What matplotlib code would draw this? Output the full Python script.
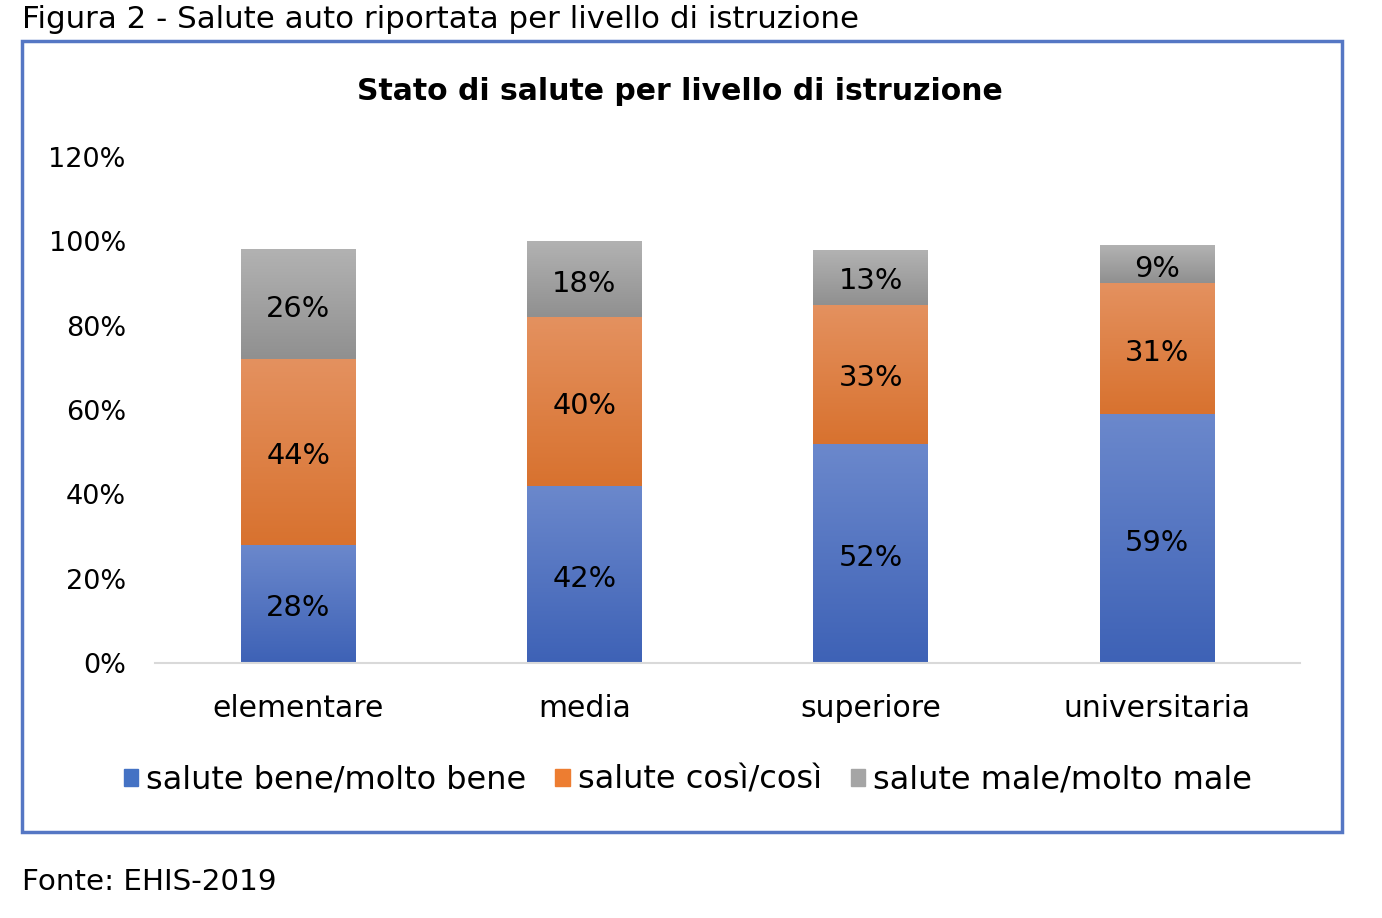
import matplotlib
matplotlib.use("Agg")
import matplotlib.pyplot as plt
import numpy as np
from matplotlib.patches import Rectangle
from matplotlib.colors import LinearSegmentedColormap

plt.rcParams['font.family'] = ['DejaVu Sans']

categories = ["elementare", "media", "superiore", "universitaria"]
series_names = ["salute bene/molto bene", "salute così/così", "salute male/molto male"]
bene = [28, 42, 52, 59]
cosi = [44, 40, 33, 31]
male = [26, 18, 13, 9]
yticks = [0, 20, 40, 60, 80, 100, 120]

base_colors = ["#4472C4", "#ED7D31", "#A5A5A5"]
grad = [("#6B88CC", "#3E62B6"), ("#E4915F", "#D8722F"), ("#B2B2B2", "#909090")]

W, H = 1382, 918
fig = plt.figure(figsize=(W / 100, H / 100), dpi=100)
ax = fig.add_axes([155 / W, 1 - 663 / H, (1300 - 155) / W, (663 - 157) / H])

x = np.arange(len(categories))
bottoms = np.zeros(len(categories))
fs = 20.8
for vals, name, col, (ctop, cbot) in zip([bene, cosi, male], series_names, base_colors, grad):
    bars = ax.bar(x, vals, width=0.4, bottom=bottoms, color=col, label=name, zorder=2)
    cmap = LinearSegmentedColormap.from_list("g", [cbot, ctop])
    for p, v in zip(bars.patches, vals):
        bx, by, bw, bh = p.get_x(), p.get_y(), p.get_width(), p.get_height()
        g = np.linspace(0, 1, 100).reshape(-1, 1)
        ax.imshow(g, cmap=cmap, extent=[bx, bx + bw, by, by + bh], origin="lower",
                  aspect="auto", zorder=2.5, interpolation="bicubic")
        ax.text(bx + bw / 2, by + bh / 2 - 1.0, f"{v}%", ha="center", va="center",
                fontsize=fs, color="black", zorder=3)
    bottoms = bottoms + np.array(vals)

ax.set_xlim(-0.5, 3.5)
ax.set_ylim(0, 120)
ax.set_yticks(yticks)
ax.set_yticklabels([f"{t}%" for t in yticks], fontsize=19.5)
ax.set_xticks(x)
ax.set_xticklabels(categories, fontsize=21.5)
for s in ["top", "right", "left"]:
    ax.spines[s].set_visible(False)
ax.spines["bottom"].set_color("#D9D9D9")
ax.spines["bottom"].set_linewidth(1.5)
ax.tick_params(axis="both", length=0)
ax.tick_params(axis="y", pad=21)
ax.tick_params(axis="x", pad=22)

fig.text(680 / W, 1 - 92 / H, "Stato di salute per livello di istruzione", ha="center",
         va="center", fontsize=21.5, fontweight="bold")
fig.text(22 / W, 1 - 20 / H, "Figura 2 - Salute auto riportata per livello di istruzione",
         ha="left", va="center", fontsize=22.2)
fig.text(22 / W, 1 - 882 / H, "Fonte: EHIS-2019", ha="left", va="center", fontsize=21.2)

handles = [Rectangle((0, 0), 1, 1, color=c) for c in base_colors]
fig.legend(handles, series_names, loc="center", bbox_to_anchor=(688 / W, 1 - 780 / H),
           ncol=3, frameon=False, fontsize=23, handlelength=0.45, handleheight=0.45,
           handletextpad=0.25, columnspacing=0.9)

border = Rectangle((22 / W, 1 - 832 / H), (1342 - 22) / W, (832 - 41) / H,
                   transform=fig.transFigure, fill=False, edgecolor="#5577C4", linewidth=2.5)
fig.add_artist(border)

fig.savefig("out.png", dpi=100)
